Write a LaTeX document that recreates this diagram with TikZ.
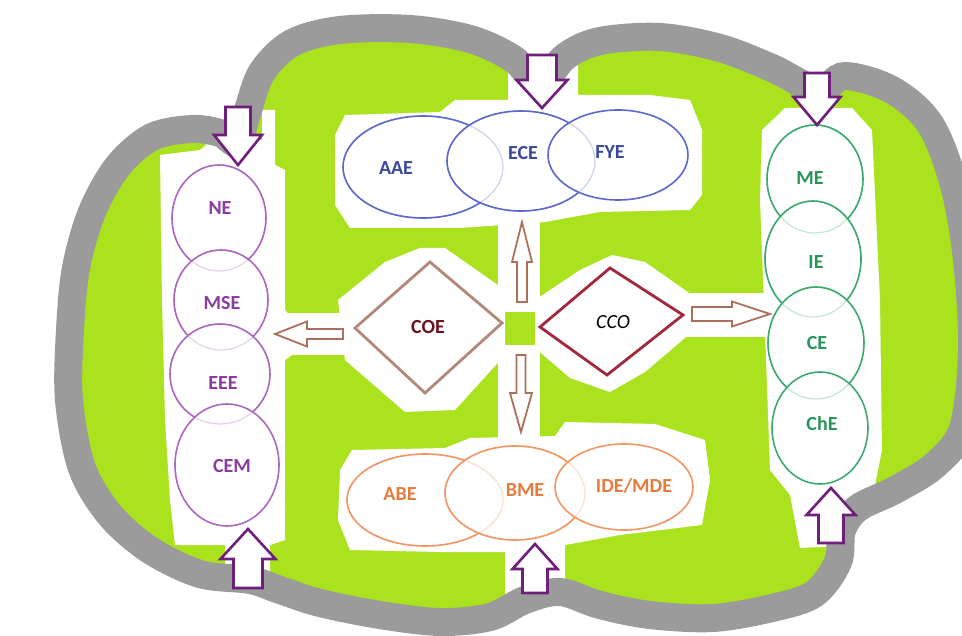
\documentclass[tikz,border=0pt]{standalone}
\usepackage{fontspec}
\setmainfont{Carlito}
\usetikzlibrary{shapes.geometric}
\definecolor{leaf}{RGB}{170,226,30}
\definecolor{bandgray}{RGB}{155,155,155}
\definecolor{purpline}{RGB}{172,104,192}
\definecolor{purptext}{RGB}{140,60,160}
\definecolor{blueline}{RGB}{92,104,204}
\definecolor{bluetext}{RGB}{58,72,160}
\definecolor{greenline}{RGB}{58,170,110}
\definecolor{greentext}{RGB}{40,150,90}
\definecolor{orangeline}{RGB}{242,150,100}
\definecolor{orangetext}{RGB}{232,122,60}
\definecolor{arrowpurp}{RGB}{112,30,124}
\definecolor{arrowbrown}{RGB}{170,112,92}
\definecolor{coeline}{RGB}{180,136,120}
\definecolor{coetext}{RGB}{110,16,30}
\definecolor{ccoline}{RGB}{162,40,62}
\newcommand{\blkarrow}[7]{%
  \begin{scope}[shift={(#2)},rotate=#3]
    \draw[#1] (0,-#5) -- ({#4-#7},-#5) -- ({#4-#7},-#6) -- (#4,0) -- ({#4-#7},#6) -- ({#4-#7},#5) -- (0,#5) -- cycle;
  \end{scope}}
\tikzset{
  halo/.style={fill=white, draw=none},
  oval/.style={ellipse, inner sep=0pt, fill=white, line width=1.6pt},
  lab/.style={font=\fontsize{20}{22}\selectfont\bfseries, inner sep=0pt},
  bigarrow/.style={draw=arrowpurp, fill=white, line width=2.6pt, line join=miter},
  thinarrow/.style={draw=arrowbrown, fill=white, line width=1.8pt, line join=miter},
}
\begin{document}
\begin{tikzpicture}[x=1pt,y=-1pt]
\useasboundingbox (0,0) rectangle (962,636);
\clip (0,0) rectangle (962,636);
% green body
\fill[leaf] plot[smooth cycle, tension=0.55] coordinates {
 (237,142) (248,110) (262,72) (292,43) (340,30) (410,29) (470,39) (512,58) (540,82)
 (566,56) (600,41) (660,37) (720,48) (772,68) (818,90)
 (845,76) (892,90) (930,124) (954,185) (967,260) (972,350) (963,428) (935,465) (895,490) (858,508) (842,530) (838,562)
 (814,594) (772,608) (713,618) (650,615) (600,605) (560,592) (525,600)
 (490,617) (440,622) (380,615) (320,603) (280,590) (250,580)
 (200,574) (150,550) (110,515) (82,468) (69,400) (70,330) (76,268) (92,212) (118,166) (152,137) (192,129) (220,133)};
% white halos
\fill[halo] (160,155) -- (200,150) -- (212,140) -- (262,140) -- (262,110) -- (275,110) -- (275,165) -- (285,170) -- (285,310) -- (292,318) -- (292,355) -- (285,360) -- (285,540) -- (270,545) -- (270,580) -- (225,580) -- (225,545) -- (175,545) -- (170,500) -- (165,420) -- (162,300) -- cycle;
\fill[halo] (335,135) -- (345,115) -- (440,112) -- (455,100) -- (508,100) -- (508,65) -- (578,65) -- (578,95) -- (650,95) -- (690,100) -- (702,130) -- (702,195) -- (690,210) -- (600,212) -- (545,222) -- (460,228) -- (350,228) -- (335,205) -- cycle;
\fill[halo] (498,215) rectangle (540,312);
\fill[halo] (498,345) rectangle (540,440);
\fill[halo] (338,300) -- (385,262) -- (420,248) -- (445,248) -- (505,290) -- (505,355) -- (455,410) -- (405,412) -- (345,360) -- cycle;
\fill[halo] (270,313) rectangle (350,355);
\fill[halo] (535,300) -- (580,270) -- (612,255) -- (645,262) -- (692,295) -- (692,332) -- (645,372) -- (610,392) -- (570,378) -- (535,348) -- cycle;
\fill[halo] (680,293) rectangle (775,337);
\fill[halo] (762,130) -- (785,108) -- (852,108) -- (872,130) -- (880,300) -- (882,450) -- (868,520) -- (860,545) -- (800,548) -- (790,495) -- (770,470) -- (765,330) -- (760,200) -- cycle;
\fill[halo] (340,470) -- (352,450) -- (445,448) -- (470,438) -- (555,436) -- (565,422) -- (655,424) -- (705,440) -- (710,480) -- (702,525) -- (620,535) -- (565,545) -- (565,600) -- (505,600) -- (505,552) -- (440,552) -- (350,550) -- (338,520) -- cycle;
% gray band
\draw[bandgray, line width=28pt] plot[smooth cycle, tension=0.55] coordinates {
 (237,142) (248,110) (262,72) (292,43) (340,30) (410,29) (470,39) (512,58) (540,82)
 (566,56) (600,41) (660,37) (720,48) (772,68) (818,90)
 (845,76) (892,90) (930,124) (954,185) (967,260) (972,350) (963,428) (935,465) (895,490) (858,508) (842,530) (838,562)
 (814,594) (772,608) (713,618) (650,615) (600,605) (560,592) (525,600)
 (490,617) (440,622) (380,615) (320,603) (280,590) (250,580)
 (200,574) (150,550) (110,515) (82,468) (69,400) (70,330) (76,268) (92,212) (118,166) (152,137) (192,129) (220,133)};
% left column
\node[oval, draw=purpline, minimum width=94pt, minimum height=106pt] (ne) at (219,218) {};
\node[oval, draw=purpline, minimum width=94pt, minimum height=100pt] (mse) at (221,300) {};
\node[oval, draw=purpline, minimum width=100pt, minimum height=100pt] (eee) at (220,374) {};
\node[oval, draw=purpline, minimum width=104pt, minimum height=122pt] (cem) at (227,465) {};
% top row
\node[oval, draw=blueline, minimum width=160pt, minimum height=102pt] (aae) at (423,167) {};
\node[oval, draw=blueline, minimum width=148pt, minimum height=100pt] (ece) at (521,161) {};
\node[oval, draw=blueline, minimum width=140pt, minimum height=90pt] (fye) at (618,155) {};
% right column
\node[oval, draw=greenline, minimum width=96pt, minimum height=108pt] (me) at (815,179) {};
\node[oval, draw=greenline, minimum width=96pt, minimum height=116pt] (ie) at (813,259) {};
\node[oval, draw=greenline, minimum width=96pt, minimum height=112pt] (ce) at (816,343) {};
\node[oval, draw=greenline, minimum width=96pt, minimum height=112pt] (che) at (820,428) {};
% bottom row
\node[oval, draw=orangeline, minimum width=156pt, minimum height=92pt] (abe) at (425,500) {};
\node[oval, draw=orangeline, minimum width=140pt, minimum height=94pt] (bme) at (515,493) {};
\node[oval, draw=orangeline, minimum width=138pt, minimum height=86pt] (ide) at (624,487) {};
% faint hidden arcs
\begin{scope}[opacity=0.3, line width=1.2pt]
\draw[purpline] (ne.center) ellipse [x radius=47, y radius=53];
\draw[purpline] (mse.center) ellipse [x radius=47, y radius=50];
\draw[purpline] (eee.center) ellipse [x radius=50, y radius=50];
\draw[blueline] (aae.center) ellipse [x radius=80, y radius=51];
\draw[blueline] (ece.center) ellipse [x radius=74, y radius=50];
\draw[greenline] (me.center) ellipse [x radius=48, y radius=54];
\draw[greenline] (ie.center) ellipse [x radius=48, y radius=58];
\draw[greenline] (ce.center) ellipse [x radius=48, y radius=56];
\draw[orangeline] (abe.center) ellipse [x radius=78, y radius=46];
\draw[orangeline] (bme.center) ellipse [x radius=70, y radius=47];
\end{scope}
% diamonds
\draw[coeline, fill=white, line width=2.8pt, line join=miter] (355,328) -- (430,262) -- (502,323) -- (425,393) -- cycle;
\draw[ccoline, fill=white, line width=2.8pt, line join=miter] (540,327) -- (610,268) -- (683,315) -- (607,375) -- cycle;
% purple block arrows
\blkarrow{bigarrow}{238,107}{-90}{58}{12.5}{24}{30}
\blkarrow{bigarrow}{542,55}{-90}{53}{14.5}{25.5}{28}
\blkarrow{bigarrow}{817,73}{-90}{52}{12.5}{23.5}{28}
\blkarrow{bigarrow}{248,588}{90}{59}{14.5}{27.5}{30}
\blkarrow{bigarrow}{535,593}{90}{49}{12.5}{22.5}{25}
\blkarrow{bigarrow}{831,543}{90}{55}{12.5}{24.5}{27}
% brown thin arrows
\blkarrow{thinarrow}{522,302}{90}{80}{5}{10}{40}
\blkarrow{thinarrow}{521,355}{-90}{77}{4.5}{11}{39}
\blkarrow{thinarrow}{343,334}{180}{68}{5}{12.5}{32}
\blkarrow{thinarrow}{692,314}{0}{78}{7}{12.5}{38}
% labels
\node[lab, purptext] (tne) at (220,208) {NE};
\node[lab, purptext] (tmse) at (222,303) {MSE};
\node[lab, purptext] (teee) at (223,383) {EEE};
\node[lab, purptext] (tcem) at (232,466) {CEM};
\node[lab, bluetext] (taae) at (396,168) {AAE};
\node[lab, bluetext] (tece) at (523,153) {ECE};
\node[lab, bluetext] (tfye) at (610,152) {FYE};
\node[lab, greentext] (tme) at (810,178) {ME};
\node[lab, greentext] (tie) at (816,262) {IE};
\node[lab, greentext] (tce) at (817,343) {CE};
\node[lab, greentext] (tche) at (822,424) {ChE};
\node[lab, orangetext] (tabe) at (400,494) {ABE};
\node[lab, orangetext] (tbme) at (525,490) {BME};
\node[lab, orangetext] (tide) at (634,486) {IDE/MDE};
\node[lab, coetext] (coe) at (428,327) {COE};
\node[lab, black, font=\fontsize{20}{22}\selectfont\itshape] (cco) at (613,322) {CCO};
\end{tikzpicture}
\end{document}
